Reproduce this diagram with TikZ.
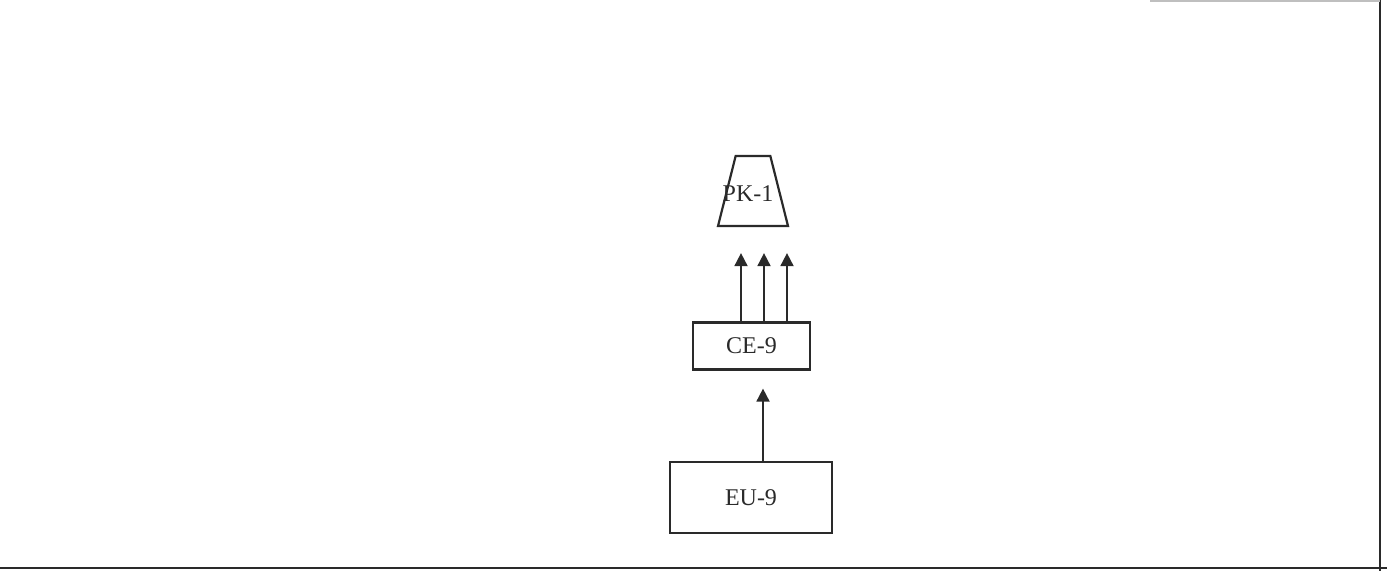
\documentclass[tikz,border=0pt]{standalone}
\usepackage{fontspec}
\setmainfont{Liberation Serif}
\usetikzlibrary{arrows.meta,positioning,shapes.geometric}
\definecolor{ink}{HTML}{2A2A2A}
\tikzset{
  box/.style={rectangle, draw=ink, line width=2.2pt, inner sep=0pt, text=ink,
              font=\fontsize{24}{28}\selectfont},
  trap/.style={trapezium, trapezium angle=63, trapezium stretches=true, draw=ink,
               line width=2.2pt, minimum width=70pt, minimum height=70pt, inner sep=1pt},
  lbl/.style={font=\fontsize{24}{28}\selectfont, text=ink, inner sep=0pt},
  flow/.style={-{Triangle[length=13pt,width=13pt]}, draw=ink, line width=1.8pt},
  frame/.style={draw=ink, line width=2pt}
}
\begin{document}
\begin{tikzpicture}[x=1pt, y=-1pt]
 \useasboundingbox (0,0) rectangle (1387,571);
 % page edges of the scan
 \draw[frame] (0,568) -- (1387,568);
 \draw[frame] (1380,0) -- (1380,571);
 \draw[frame, draw=ink!30] (1150,1) -- (1380,1);
 % nodes
 \node[trap] (pk) at (753,191) {};
 \node[lbl] (pktext) at ([xshift=-5pt, yshift=-3pt]pk.center) {PK-1};
 \node[box, minimum width=117pt, minimum height=47pt] (ce) at (751.5,346) {CE-9};
 \node[box, minimum width=162pt, minimum height=71pt] (eu) at (751,497.5) {EU-9};
 % arrows
 \foreach \dx in {-12,11,34}
   \draw[flow, shorten >=26pt] ([xshift=\dx pt]pk.south |- ce.north) -- ([xshift=\dx pt]pk.south);
 \draw[flow, shorten >=18pt] ([xshift=12pt]eu.north) -- ([xshift=12pt]eu.north |- ce.south);
\end{tikzpicture}
\end{document}
